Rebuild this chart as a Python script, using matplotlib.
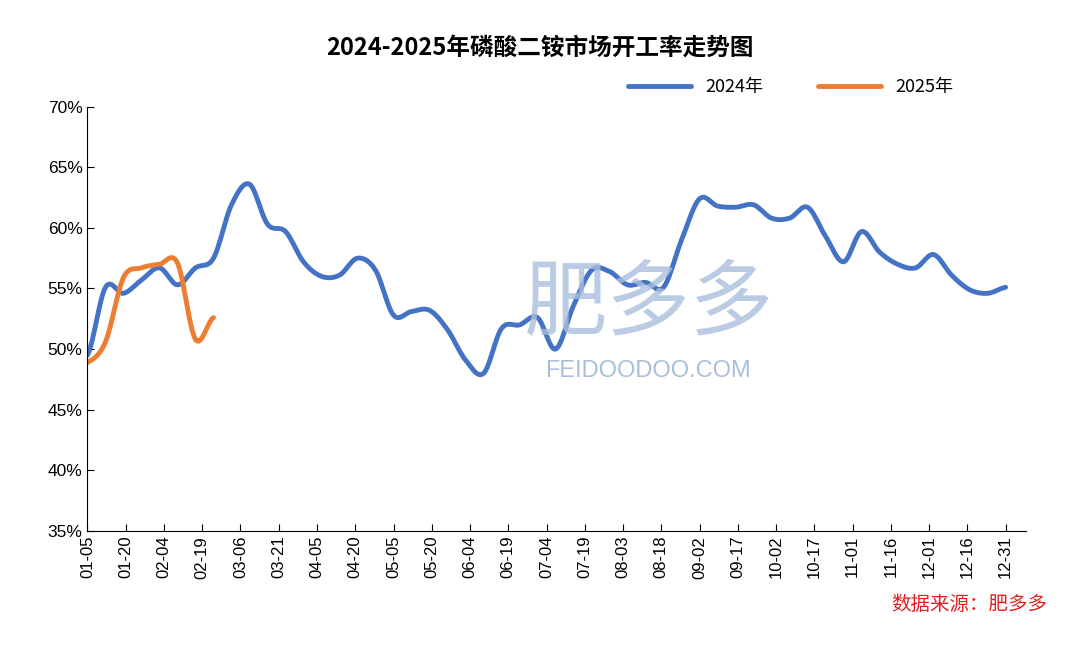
import numpy as np
import matplotlib.pyplot as plt

plt.rcParams['font.family'] = ['Noto Sans CJK SC', 'DejaVu Sans']

tick_labels = ['01-05', '01-20', '02-04', '02-19', '03-06', '03-21', '04-05', '04-20', '05-05',
               '05-20', '06-04', '06-19', '07-04', '07-19', '08-03', '08-18', '09-02', '09-17',
               '10-02', '10-17', '11-01', '11-16', '12-01', '12-16', '12-31']
rate_2024 = [49.5, 55.1, 54.6, 55.7, 56.7, 55.3, 56.7, 57.5, 61.9, 63.6, 60.3, 59.7, 57.2,
             56.0, 56.1, 57.5, 56.5, 52.8, 53.1, 53.2, 51.6, 49.1, 48.0, 51.7, 52.0, 52.6,
             50.0, 53.6, 56.5, 56.4, 55.3, 55.5, 55.1, 59.0, 62.4, 61.8, 61.7, 61.9, 60.8,
             60.8, 61.7, 59.3, 57.2, 59.7, 58.0, 57.0, 56.7, 57.8, 56.1, 54.9, 54.6, 55.1]
rate_2025 = [48.9, 50.6, 55.9, 56.7, 57.0, 57.1, 50.8, 52.6]

STEP = 360 / 51  # days between weekly points on the axis


def smooth(y, n=12):
    # Catmull-Rom curve through the weekly points, like Excel's smoothed line
    y = np.asarray(y, float)
    p = np.concatenate([[y[0]], y, [y[-1]]])
    xs, ys = [], []
    for i in range(len(y) - 1):
        t = np.linspace(0, 1, n, endpoint=False)
        p0, p1, p2, p3 = p[i], p[i + 1], p[i + 2], p[i + 3]
        seg = 0.5 * (2 * p1 + (-p0 + p2) * t + (2 * p0 - 5 * p1 + 4 * p2 - p3) * t ** 2
                     + (-p0 + 3 * p1 - 3 * p2 + p3) * t ** 3)
        xs.extend((i + t) * STEP)
        ys.extend(seg)
    xs.append((len(y) - 1) * STEP)
    ys.append(y[-1])
    return np.array(xs), np.array(ys)


fig, ax = plt.subplots(figsize=(10.8, 6.46), dpi=100)
fig.subplots_adjust(left=0.081, right=0.95, top=0.835, bottom=0.178)

x1, y1 = smooth(rate_2024)
x2, y2 = smooth(rate_2025)
ax.plot(x1, y1, color='#4472C4', lw=3.5, label='2024年', solid_capstyle='round')
ax.plot(x2, y2, color='#ED7D31', lw=3.5, label='2025年', solid_capstyle='round')

# watermark
fig.text(0.60, 0.53, '肥多多', fontsize=60, color='#A9BEDD', ha='center', va='center', alpha=0.8, zorder=0)
fig.text(0.60, 0.425, 'FEIDOODOO.COM', fontsize=17, color='#A9BEDD', ha='center', va='center',
         family='Liberation Sans', zorder=0)

ax.set_xlim(0, 368)
ax.set_ylim(35, 70)
ax.set_xticks(np.arange(len(tick_labels)) * 15)
ax.set_xticklabels(tick_labels, rotation=90, fontsize=12, family='Liberation Sans')
ax.set_yticks(np.arange(35, 71, 5))
ax.set_yticklabels([f'{v}%' for v in range(35, 71, 5)], fontsize=12.5, family='Liberation Sans')
ax.tick_params(direction='in', length=5)
for s in ['top', 'right']:
    ax.spines[s].set_visible(False)

fig.suptitle('2024-2025年磷酸二铵市场开工率走势图', fontsize=17, fontweight='bold', y=0.945)
ax.legend(loc='upper right', bbox_to_anchor=(0.94, 1.105), ncol=2, frameon=False,
          fontsize=13, handlelength=3.5, columnspacing=3)
fig.text(0.97, 0.055, '数据来源：肥多多', color='#E02020', fontsize=14, style='italic', ha='right')

fig.savefig('out.png', dpi=100)
